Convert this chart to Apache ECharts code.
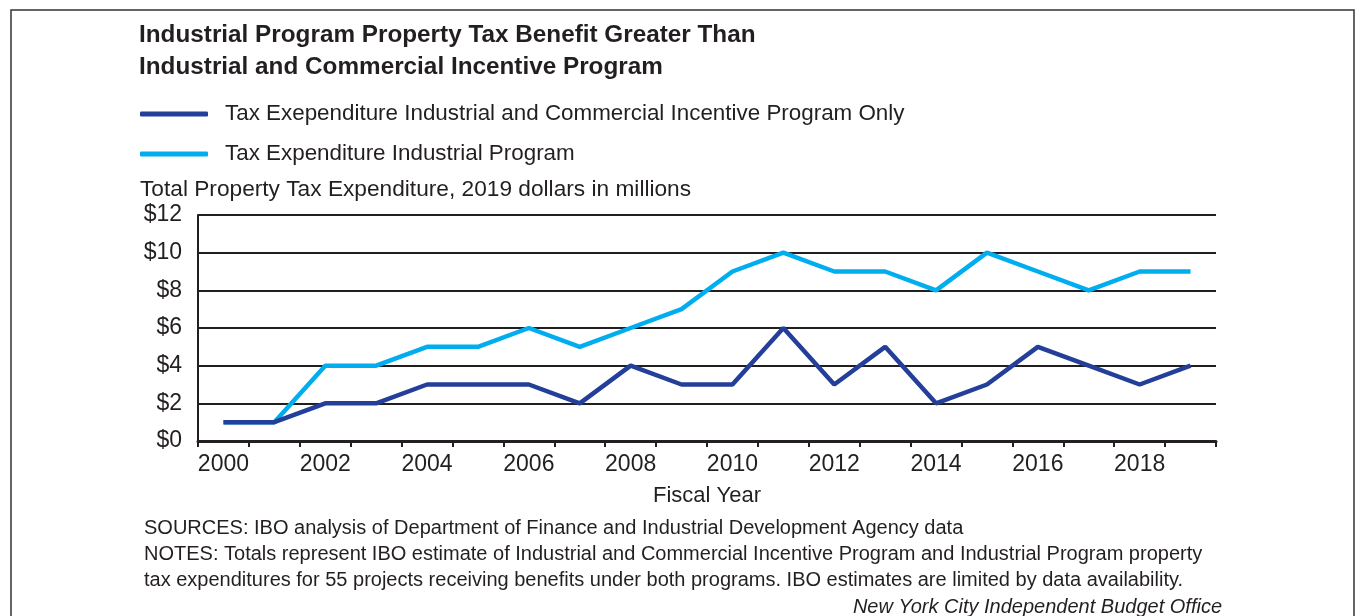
<!DOCTYPE html>
<html>
<head>
<meta charset="utf-8">
<script src="https://cdn.jsdelivr.net/npm/echarts@6/dist/echarts.min.js"></script>
<style>
  html, body { margin: 0; padding: 0; background: #fff; }
  #chart { width: 1358px; height: 616px; }
</style>
</head>
<body>
<div id="chart"></div>
<script>
// Fiscal years on the category axis
const years = ['2000','2001','2002','2003','2004','2005','2006','2007','2008','2009',
               '2010','2011','2012','2013','2014','2015','2016','2017','2018','2019'];
// Tax expenditure, Industrial and Commercial Incentive Program only ($ millions, 2019 dollars)
const icipOnly = [1, 1, 2, 2, 3, 3, 3, 2, 4, 3, 3, 6, 3, 5, 2, 3, 5, 4, 3, 4];
// Tax expenditure, Industrial Program ($ millions, 2019 dollars)
const industrial = [1, 1, 4, 4, 5, 5, 6, 5, 6, 7, 9, 10, 9, 9, 8, 10, 9, 8, 9, 9];

const nameIcip = 'Tax Exependiture Industrial and Commercial Incentive Program Only';
const nameInd = 'Tax Expenditure Industrial Program';

const FONT = '"Liberation Sans", Arial, sans-serif';
const INK = '#231f20';

const chart = echarts.init(document.getElementById('chart'));
chart.setOption({
  animation: false,
  textStyle: { fontFamily: FONT, color: INK },
  grid: { left: 198, right: 142, top: 215, bottom: 175, containLabel: false },
  legend: {
    orient: 'vertical',
    left: 135,
    top: 98,
    itemWidth: 68,
    itemHeight: 5,
    itemGap: 18,
    icon: 'roundRect',
    data: [nameIcip, nameInd],
    textStyle: { fontFamily: FONT, fontSize: 22.4, color: INK, padding: [0, 0, 0, 12] },
    selectedMode: false
  },
  xAxis: {
    type: 'category',
    data: years,
    boundaryGap: true,
    name: 'Fiscal Year',
    nameLocation: 'middle',
    nameGap: 44,
    nameTextStyle: { fontFamily: FONT, fontSize: 22, color: INK },
    axisLine: { lineStyle: { color: INK, width: 3 } },
    axisTick: { show: true, interval: 0, length: 6, lineStyle: { color: INK, width: 2 } },
    axisLabel: { interval: 1, margin: 12, fontFamily: FONT, fontSize: 23, color: INK }
  },
  yAxis: {
    type: 'value',
    min: 0,
    max: 12,
    interval: 2,
    axisLine: { show: true, lineStyle: { color: INK, width: 2 } },
    axisTick: { show: false },
    axisLabel: { margin: 16, fontFamily: FONT, fontSize: 23, color: INK, formatter: v => '$' + v },
    splitLine: { show: true, lineStyle: { color: INK, width: 2 } }
  },
  series: [
    {
      name: nameInd,
      type: 'line',
      data: industrial,
      symbol: 'none',
      lineStyle: { color: '#00aeef', width: 4.5 },
      itemStyle: { color: '#00aeef' },
      z: 3
    },
    {
      name: nameIcip,
      type: 'line',
      data: icipOnly,
      symbol: 'none',
      lineStyle: { color: '#233f99', width: 4.5 },
      itemStyle: { color: '#233f99' },
      z: 4
    }
  ],
  graphic: [
    {
      type: 'rect',
      shape: { x: 11, y: 10, width: 1343, height: 620 },
      style: { fill: 'none', stroke: '#333', lineWidth: 1.5 },
      silent: true
    },
    {
      type: 'text', left: 139, top: 19,
      style: { text: 'Industrial Program Property Tax Benefit Greater Than\nIndustrial and Commercial Incentive Program',
               font: 'bold 24.3px ' + FONT, fill: INK, lineHeight: 32 }
    },
    {
      type: 'text', left: 140, top: 178,
      style: { text: 'Total Property Tax Expenditure, 2019 dollars in millions', font: '22.7px ' + FONT, fill: INK }
    },
    {
      type: 'text', left: 144, top: 515,
      style: { text: 'SOURCES: IBO analysis of Department of Finance and Industrial Development Agency data\nNOTES: Totals represent IBO estimate of Industrial and Commercial Incentive Program and Industrial Program property\ntax expenditures for 55 projects receiving benefits under both programs. IBO estimates are limited by data availability.',
               font: '20px ' + FONT, fill: INK, lineHeight: 26.3 }
    },
    {
      type: 'text', right: 136, top: 597,
      style: { text: 'New York City Independent Budget Office', font: 'italic 20px ' + FONT, fill: INK }
    }
  ]
});
</script>
</body>
</html>
